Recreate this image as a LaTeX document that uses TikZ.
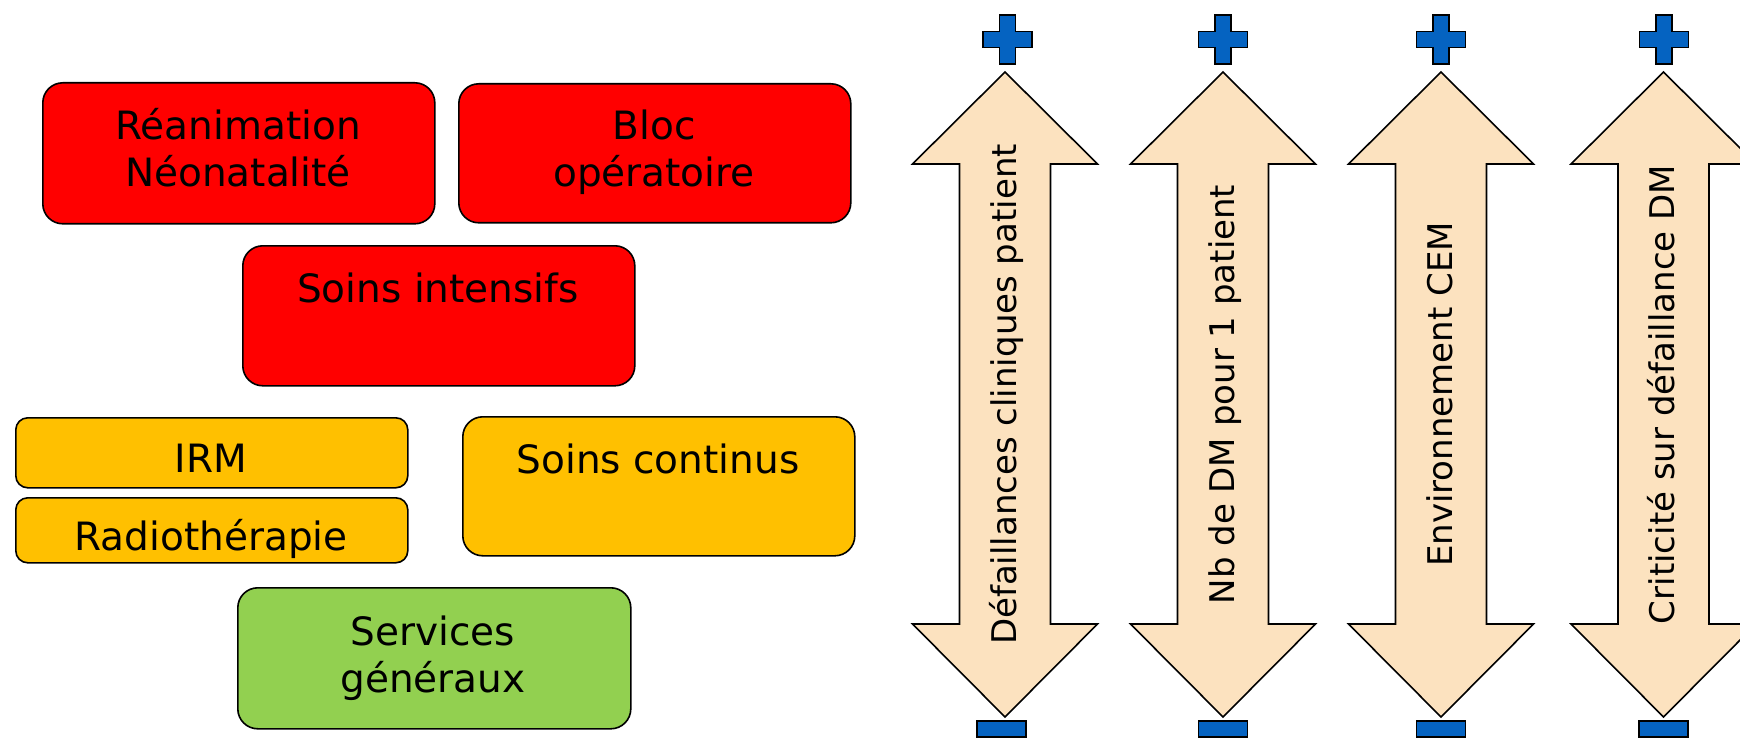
\documentclass[tikz,border=0pt]{standalone}
\usepackage{fontspec}
\setmainfont{DejaVu Sans}
\definecolor{cred}{HTML}{FF0000}
\definecolor{camber}{HTML}{FFC000}
\definecolor{cgreen}{HTML}{92D050}
\definecolor{carrow}{HTML}{FCE2BF}
\definecolor{cblue}{HTML}{0563C1}
\begin{document}
\begin{tikzpicture}[x=1pt,y=-1pt,
  box/.style={draw=black, line width=1.6pt, rounded corners=20pt, inner sep=0pt, anchor=north west},
  smallbox/.style={box, rounded corners=12pt},
  lbl/.style={font=\fontsize{39}{47}\selectfont, anchor=base, inner sep=0pt},
  vlbl/.style={font=\fontsize{34}{40}\selectfont, anchor=base, inner sep=0pt, rotate=90},
  arrowshape/.style={draw=black, line width=1.6pt, fill=carrow, line join=miter},
  signshape/.style={draw=black, line width=1.6pt, fill=cblue}
]
\useasboundingbox (0,0) rectangle (1740,738);
\clip (0,0) rectangle (1740,738);

% left boxes
\node[box, fill=cred, minimum width=392pt, minimum height=141pt] (rea) at (42,82) {};
\node[lbl] (reaA) at (238,140) {Réanimation};
\node[lbl] (reaB) at (238,187) {Néonatalité};

\node[box, fill=cred, minimum width=392pt, minimum height=139pt] (bloc) at (458,83) {};
\node[lbl] (blocA) at (654,140) {Bloc};
\node[lbl] (blocB) at (654,187) {opératoire};

\node[box, fill=cred, minimum width=392pt, minimum height=140pt] (si) at (242,245) {};
\node[lbl] (siA) at (438,302) {Soins intensifs};

\node[smallbox, fill=camber, minimum width=392pt, minimum height=70pt] (irm) at (15,417) {};
\node[lbl] (irmA) at (211,472) {IRM};

\node[smallbox, fill=camber, minimum width=392pt, minimum height=65pt] (radio) at (15,497) {};
\node[lbl] (radioA) at (211,550) {Radiothérapie};

\node[box, fill=camber, minimum width=392pt, minimum height=139pt] (sc) at (462,416) {};
\node[lbl] (scA) at (658,473) {Soins continus};

\node[box, fill=cgreen, minimum width=393pt, minimum height=141pt] (sg) at (237,587) {};
\node[lbl] (sgA) at (433,645) {Services};
\node[lbl] (sgB) at (433,692) {généraux};

% double arrows
\foreach \cx/\px/\mx/\txt in {1005/1007.5/1001.5/{Défaillances cliniques patient},
                          1223/1223/1223/{Nb de DM pour 1 patient},
                          1441/1441/1441/{Environnement CEM},
                          1663.5/1664/1663.5/{Criticité sur défaillance DM}}{
  \draw[arrowshape] (\cx,72) -- (\cx+92.5,164) -- (\cx+45.5,164) -- (\cx+45.5,624)
     -- (\cx+92.5,624) -- (\cx,717) -- (\cx-92.5,624) -- (\cx-45.5,624)
     -- (\cx-45.5,164) -- (\cx-92.5,164) -- cycle;
  \node[vlbl] at (\cx+11,394.5) {\txt};
  % plus sign
  \draw[signshape] (\px-8,15) -- (\px+8,15) -- (\px+8,31.5) -- (\px+24.5,31.5)
     -- (\px+24.5,47.5) -- (\px+8,47.5) -- (\px+8,64) -- (\px-8,64) -- (\px-8,47.5)
     -- (\px-24.5,47.5) -- (\px-24.5,31.5) -- (\px-8,31.5) -- cycle;
  % minus sign
  \draw[signshape] (\mx-24.5,721) rectangle (\mx+24.5,737);
}
\end{tikzpicture}
\end{document}
